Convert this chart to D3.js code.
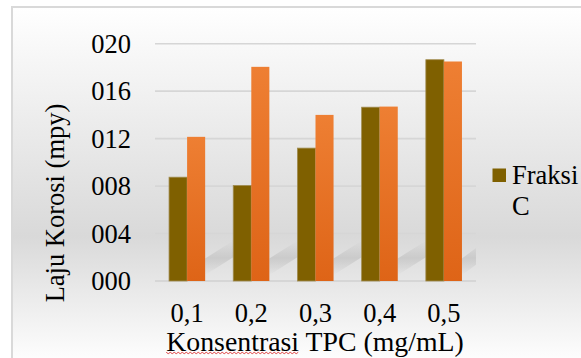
<!DOCTYPE html>
<html>
<head>
<meta charset="utf-8">
<script src="https://cdn.jsdelivr.net/npm/d3@7"></script>
</head>
<body style="margin:0">
<svg id="chart" width="581" height="358"></svg>
<script>
// konsentrasi TPC (mg/mL)
var categories = ["0,1", "0,2", "0,3", "0,4", "0,5"]
var seriesNames = ["Fraksi C", "Fraksi lain"]
// laju korosi (mpy)
var fraksiC = [8.75, 8.05, 11.2, 14.65, 18.65]
var fraksiLain = [12.15, 18.05, 14.0, 14.7, 18.5]
var yTicks = [0, 4, 8, 12, 16, 20]
var yTickLabels = ["000", "004", "008", "012", "016", "020"]

var FONT = "Liberation Serif"
var svg = d3.select("#chart")
var W = 581, H = 358
var plot = {left: 155, right: 476, top: 43.7, bottom: 281}

var defs = svg.append("defs")

var bg = defs.append("linearGradient").attr("id", "bg")
    .attr("x1", 0).attr("y1", 0).attr("x2", 0).attr("y2", 1)
bg.append("stop").attr("offset", "0%").attr("stop-color", "#ffffff")
bg.append("stop").attr("offset", "64%").attr("stop-color", "#d9d9d9")
bg.append("stop").attr("offset", "100%").attr("stop-color", "#ffffff")

var orange = defs.append("linearGradient").attr("id", "orange")
    .attr("x1", 0).attr("y1", 0).attr("x2", 0).attr("y2", 1)
orange.append("stop").attr("offset", "0%").attr("stop-color", "#ee7f33")
orange.append("stop").attr("offset", "100%").attr("stop-color", "#de6417")

// soft streak: gradient across the band
var streak = defs.append("linearGradient").attr("id", "streak")
    .attr("x1", 0).attr("y1", 0).attr("x2", 0).attr("y2", 1)
streak.append("stop").attr("offset", "0%").attr("stop-color", "#bdbdbd").attr("stop-opacity", 0)
streak.append("stop").attr("offset", "50%").attr("stop-color", "#bdbdbd").attr("stop-opacity", 0.6)
streak.append("stop").attr("offset", "100%").attr("stop-color", "#bdbdbd").attr("stop-opacity", 0)

defs.append("clipPath").attr("id", "plotclip")
    .append("rect").attr("x", plot.left).attr("y", plot.top)
    .attr("width", plot.right - plot.left).attr("height", plot.bottom - plot.top)

// chart area background and border
svg.append("rect")
    .attr("x", 12).attr("y", 7)
    .attr("width", W).attr("height", H)
    .attr("fill", "url(#bg)")
    .attr("stroke", "#d9d9d9")
    .attr("stroke-width", 2)

var x = d3.scaleBand().domain(categories).range([plot.left, plot.right]).paddingInner(0.4375).paddingOuter(0.21875)
var xs = d3.scaleBand().domain(seriesNames).range([0, x.bandwidth()])
var y = d3.scaleLinear().domain([0, 20]).range([plot.bottom, plot.top])

// grid
svg.append("g").selectAll("line").data(yTicks).enter().append("line")
    .attr("x1", plot.left).attr("x2", plot.right)
    .attr("y1", d => y(d)).attr("y2", d => y(d))
    .attr("stroke", d => d === 0 ? "#d0d0d0" : "#d6d6d6")
    .attr("stroke-width", 1.6)

// glossy streaks between groups
var gaps = categories.map((c, i) => {
    var s = x(c) + x.bandwidth()
    var e = i < categories.length - 1 ? x(categories[i + 1]) : plot.right + 10
    return [s, e]
})
svg.append("g").attr("clip-path", "url(#plotclip)").selectAll("path").data(gaps).enter().append("path")
    .attr("d", d => "M" + d[0] + "," + y(0.5) + "L" + d[1] + "," + y(2.0) +
        "L" + d[1] + "," + y(3.4) + "L" + d[0] + "," + y(1.9) + "Z")
    .attr("fill", "url(#streak)")

// bars
var groups = svg.append("g").selectAll("g").data(categories).enter().append("g")
    .attr("transform", d => "translate(" + x(d) + ",0)")

groups.append("rect")
    .attr("x", xs("Fraksi C"))
    .attr("y", (d, i) => y(fraksiC[i]))
    .attr("width", xs.bandwidth())
    .attr("height", (d, i) => y(0) - y(fraksiC[i]))
    .attr("fill", "#7f6000")
    .attr("stroke", "#a08c50").attr("stroke-width", 0.8)

groups.append("rect")
    .attr("x", xs("Fraksi lain"))
    .attr("y", (d, i) => y(fraksiLain[i]))
    .attr("width", xs.bandwidth())
    .attr("height", (d, i) => y(0) - y(fraksiLain[i]))
    .attr("fill", "url(#orange)")

// y tick labels
svg.append("g").selectAll("text").data(yTicks).enter().append("text")
    .attr("x", 131).attr("y", d => y(d) + 9)
    .attr("text-anchor", "end")
    .attr("font-size", 26.5)
    .style("font-family", FONT)
    .text((d, i) => yTickLabels[i])

// x tick labels
svg.append("g").selectAll("text").data(categories).enter().append("text")
    .attr("x", d => x(d) + x.bandwidth() / 2)
    .attr("y", 322)
    .attr("text-anchor", "middle")
    .attr("font-size", 26.5)
    .style("font-family", FONT)
    .text(d => d)

// axis titles
var xt = svg.append("text")
    .attr("x", 315).attr("y", 350.5)
    .attr("text-anchor", "middle")
    .attr("font-size", 27.8)
    .style("font-family", FONT)
xt.append("tspan").attr("id", "kons").text("Konsentrasi")
xt.append("tspan").text(" TPC (mg/mL)")

// spell-check underline under the first word
var kb = document.getElementById("kons").getBBox()
var wave = d3.range(kb.x, kb.x + kb.width, 2).map((v, i) => [v, 353 + (i % 2 ? 0.7 : -0.7)])
svg.append("path")
    .attr("d", d3.line()(wave))
    .attr("fill", "none")
    .attr("stroke", "#e04848")
    .attr("stroke-width", 1)

svg.append("text")
    .attr("transform", "translate(64,203) rotate(-90)")
    .attr("text-anchor", "middle")
    .attr("font-size", 26.5)
    .style("font-family", FONT)
    .text("Laju Korosi (mpy)")

// legend
svg.append("rect")
    .attr("x", 492.5).attr("y", 168.5)
    .attr("width", 13.5).attr("height", 13.5)
    .attr("fill", "#7f6000")
svg.append("text")
    .attr("x", 512).attr("y", 183.5)
    .attr("font-size", 26.5)
    .style("font-family", FONT)
    .text("Fraksi")
svg.append("text")
    .attr("x", 512).attr("y", 214.5)
    .attr("font-size", 26.5)
    .style("font-family", FONT)
    .text("C")
</script>
</body>
</html>
